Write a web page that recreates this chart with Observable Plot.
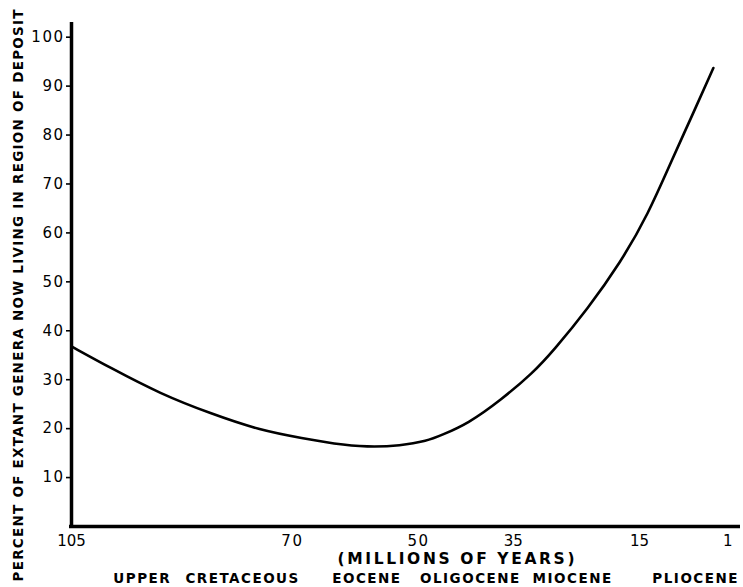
<!DOCTYPE html>
<html>
<head>
<meta charset="utf-8">
<script src="https://cdn.jsdelivr.net/npm/d3@7"></script>
<script src="https://cdn.jsdelivr.net/npm/@observablehq/plot@0.6"></script>
<style>
  html, body { margin: 0; padding: 0; background: #fff; }
</style>
</head>
<body>
<div id="chart"></div>
<script>
// Age (millions of years ago) and percent of extant genera now living in region of deposit
const ages     = [105, 98.8, 90.9, 83.0, 75.0, 68.2, 63.5, 58.1, 52.9, 48.6, 46.5, 42.2, 37.0, 31.8, 28.6, 23.2, 18.0, 13.7, 9.6, 6.9, 3.3];
const percents = [36.8, 32.4, 27.1, 23.1, 19.6, 18.0, 16.9, 16.2, 16.5, 17.5, 18.6, 21.0, 25.8, 31.5, 36.0, 44.5, 54.0, 63.6, 75.7, 83.3, 93.7];

const xTicks = [105, 70, 50, 35, 15, 1];
const yTicks = [10, 20, 30, 40, 50, 60, 70, 80, 90, 100];

const epochNames = ["UPPER CRETACEOUS", "EOCENE", "OLIGOCENE", "MIOCENE", "PLIOCENE"];
const epochAges  = [83.6, 58.2, 41.8, 25.6, 6.1];

const yLabel = "PERCENT OF EXTANT GENERA NOW LIVING IN REGION OF DEPOSIT";
const xLabel = "(MILLIONS OF YEARS)";

const data = ages.map((a, i) => ({age: a, pct: percents[i]}));
const epochs = epochNames.map((n, i) => ({name: n, age: epochAges[i]}));

const chart = Plot.plot({
  width: 743,
  height: 587,
  marginLeft: 71,
  marginRight: 3,
  marginTop: 22,
  marginBottom: 61,
  style: {fontFamily: "'DejaVu Sans', sans-serif", fontSize: "15px", color: "#000", background: "#fff"},
  x: {domain: [105, -1]},
  y: {domain: [0, 103]},
  marks: [
    Plot.axisY({ticks: yTicks, tickSize: 5, tickPadding: 2, label: null, fontSize: 15, strokeWidth: 1.6}),
    Plot.axisX({ticks: xTicks, tickSize: 0, tickPadding: 9, label: null, fontSize: 15}),
    Plot.ruleX([105], {stroke: "#000", strokeWidth: 3.5}),
    Plot.ruleY([0], {stroke: "#000", strokeWidth: 3.5, insetLeft: -2}),
    Plot.line(data, {x: "age", y: "pct", curve: "basis", stroke: "#000", strokeWidth: 2.6}),
    Plot.text([yLabel], {frameAnchor: "left", rotate: -90, textAnchor: "middle", lineAnchor: "middle",
      dx: -53, dy: 21, fontSize: 13.5, fontWeight: "bold", fill: "#000"}),
    Plot.text([xLabel], {frameAnchor: "bottom", textAnchor: "middle", lineAnchor: "middle",
      dx: 50, dy: 33, fontSize: 15.5, fontWeight: "bold", fill: "#000"}),
    Plot.text(epochs, {x: "age", frameAnchor: "bottom", text: "name", textAnchor: "middle", lineAnchor: "middle",
      dy: 52, fontSize: 13.5, fontWeight: "bold", fill: "#000"})
  ]
});

document.getElementById("chart").appendChild(chart);

const svg = d3.select(chart);
svg.selectAll("text").filter(function() { return this.textContent === yLabel; })
  .attr("textLength", 572).attr("lengthAdjust", "spacing");
svg.selectAll("text").filter(function() { return this.textContent === xLabel; })
  .attr("textLength", 237).attr("lengthAdjust", "spacing");
svg.selectAll("text").filter(function() { return epochNames.includes(this.textContent); })
  .style("letter-spacing", "1.5px").style("word-spacing", "8px");
svg.selectAll("text").filter(function() { return yTicks.map(String).includes(this.textContent); })
  .style("letter-spacing", "1.5px");
</script>
</body>
</html>
